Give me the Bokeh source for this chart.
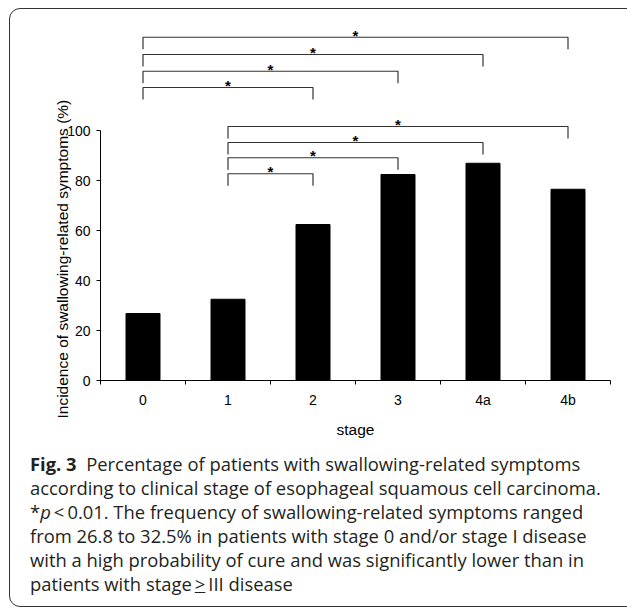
import math
from bokeh.plotting import figure
from bokeh.models import FixedTicker, Range1d, Title, Div
from bokeh.layouts import column
from bokeh.core.properties import value
from bokeh.embed import file_html
from bokeh.resources import INLINE

# ---- data ----
stages = ["0", "1", "2", "3", "4a", "4b"]
incidence = [26.8, 32.5, 62.4, 82.4, 86.9, 76.5]
y_ticks = [0, 20, 40, 60, 80, 100]

# significance brackets (stage index from, stage index to, bracket height in %)
bracket_from = [0, 0, 0, 0, 1, 1, 1, 1]
bracket_to = [2, 3, 4, 5, 2, 3, 4, 5]
bracket_level = [117.2, 123.7, 130.4, 137.3, 82.7, 89.1, 95.2, 101.6]
bracket_mark = ["*", "*", "*", "*", "*", "*", "*", "*"]

x_title = "stage"
y_title = "Incidence of swallowing-related symptoms (%)"

AX_FONT = "Liberation Sans"

centers = [i + 0.5 for i in range(len(stages))]
bounds = list(range(len(stages) + 1))

p = figure(width=617, height=438,
           x_range=Range1d(0, len(stages)), y_range=Range1d(0, 146),
           output_backend="svg", toolbar_location=None,
           min_border_left=90, min_border_right=17,
           min_border_top=5, min_border_bottom=68)
p.outline_line_color = None
p.grid.grid_line_color = None
p.background_fill_color = "white"
p.border_fill_color = "white"

p.vbar(x=centers, top=incidence, width=0.4, fill_color="black", line_color="black")

# brackets
drop = 4.8
xs, ys, sx, sy = [], [], [], []
for a, b, lvl in zip(bracket_from, bracket_to, bracket_level):
    x0, x1 = centers[a], centers[b]
    xs.append([x0, x0, x1, x1])
    ys.append([lvl - drop, lvl, lvl, lvl - drop])
    sx.append((x0 + x1) / 2)
    sy.append(lvl + 0.9)
p.multi_line(xs=xs, ys=ys, line_color="#333333", line_width=1.2)
p.text(x=sx, y=sy, text=bracket_mark, text_align="center", text_baseline="middle",
       text_font=value(AX_FONT), text_font_size="15px", text_font_style="bold",
       text_color="black")

# x axis
xa = p.xaxis[0]
xa.ticker = FixedTicker(ticks=centers, minor_ticks=bounds)
xa.major_label_overrides = {c: s for c, s in zip(centers, stages)}
xa.major_tick_line_color = None
xa.minor_tick_line_color = "black"
xa.minor_tick_out = 4
xa.minor_tick_in = 0
xa.axis_line_color = "black"
xa.major_label_text_font = AX_FONT
xa.major_label_text_font_size = "14px"
xa.major_label_text_color = "black"
xa.major_label_standoff = 5
xa.axis_label = x_title
xa.axis_label_text_font = AX_FONT
xa.axis_label_text_font_size = "15.5px"
xa.axis_label_text_font_style = "normal"
xa.axis_label_text_color = "black"
xa.axis_label_standoff = 10

# y axis
ya = p.yaxis[0]
ya.ticker = FixedTicker(ticks=y_ticks, minor_ticks=[])
ya.bounds = (0, 100)
ya.major_tick_out = 4
ya.major_tick_in = 0
ya.minor_tick_line_color = None
ya.axis_line_color = "black"
ya.major_label_text_font = AX_FONT
ya.major_label_text_font_size = "14px"
ya.major_label_text_color = "black"
ya.major_label_standoff = 6

p.add_layout(Title(text=y_title, align="left", offset=-38, standoff=-12,
                   vertical_align="bottom",
                   text_font=AX_FONT, text_font_size="15.5px",
                   text_font_style="normal", text_color="black"), "left")

caption_html = (
    "<div style=\"position:fixed; left:9px; top:8px; width:720px; height:599px; "
    "border:1.5px solid #333; border-radius:11px; pointer-events:none;\"></div>"
    "<div style=\"font-family:'Open Sans'; font-size:18.4px; line-height:24px; "
    "color:#231f20; padding-left:15px; margin-top:-1px; white-space:nowrap;\">"
    "<b>Fig. 3</b>&nbsp; Percentage of patients with swallowing-related symptoms<br>"
    "according to clinical stage of esophageal squamous cell carcinoma.<br>"
    "*<i>p</i>&thinsp;&lt;&thinsp;0.01. The frequency of swallowing-related symptoms ranged<br>"
    "from 26.8 to 32.5% in patients with stage 0 and/or stage I disease<br>"
    "with a high probability of cure and was significantly lower than in<br>"
    "patients with stage&thinsp;<u>&gt;</u>&thinsp;III disease"
    "</div>"
)
cap = Div(text=caption_html, width=617, height=160)

layout = column(p, cap, margin=(10, 0, 0, 10))

open("out.html", "w").write(file_html(layout, INLINE))
